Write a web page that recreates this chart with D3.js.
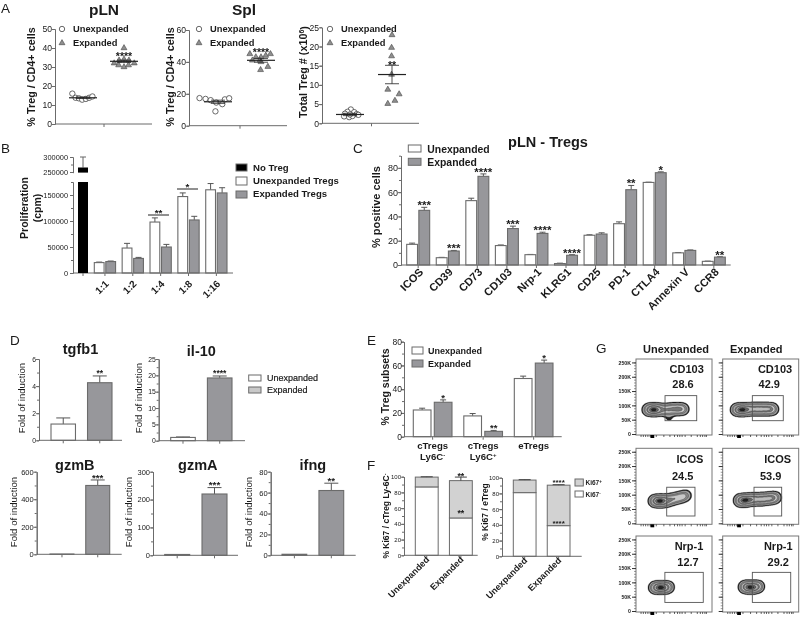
<!DOCTYPE html>
<html>
<head>
<meta charset="utf-8">
<script src="https://cdn.jsdelivr.net/npm/d3@7"></script>
<style>
body { margin: 0; background: #fff; }
text { font-family: "Liberation Sans", Arial, sans-serif; fill: #1a1a1a; }
svg { filter: blur(0.3px); }
</style>
</head>
<body>
<div id="chart"></div>
<script>
// panel A: [x in category units, value]
const plnUnexp = [[0.74,16],[0.82,13.8],[0.9,13.5],[0.98,12.8],[1.07,13.2],[1.15,13.8],[1.23,14.5]];
const plnExp = [[2,40],[1.76,32],[1.87,31],[2,30],[2.11,31],[2.25,32],[1.88,33.5],[2,34],[2.12,33.5]];
const splUnexp = [[0.57,17.3],[0.71,16.8],[0.83,16],[0.96,14.5],[1.1,13.5],[0.94,9],[1.16,16.5],[1.26,17.2]];
const splExp = [[1.74,45],[2.22,45],[2.11,44],[1.88,43],[2,43],[1.97,41],[2,40],[2.16,37],[1.99,35],[1.8,41]];
const totUnexp = [[1.02,3.6],[0.94,3],[1.1,2.9],[0.88,2.5],[1.16,2.4],[0.86,1.8],[0.98,1.6],[1.06,1.9],[1,2.3],[1.2,2.2]];
const totExp = [[2,23],[1.99,19.7],[1.99,17.5],[1.99,12.7],[1.9,8.8],[2.17,7.6],[2.07,5.9],[1.9,5.1]];

// panel B
const bCats = ["1:1","1:2","1:4","1:8","1:16"];
const bUnexp = [20000,48000,98000,147000,160000];
const bUnexpErr = [1000,9000,8000,7000,12000];
const bExp = [22000,28000,50000,102000,154000];
const bExpErr = [1000,2000,5000,7000,10000];
const bNoTreg = 265000, bNoTregErr = 35000;

// panel C
const cCats = ["ICOS","CD39","CD73","CD103","Nrp-1","KLRG1","CD25","PD-1","CTLA4","Annexin V","CCR8"];
const cUnexp = [17,6,53,16,8.5,1.2,24.5,34,68,10,3];
const cUnexpErr = [1,0.3,2,0.5,0.2,0.3,0.4,1.5,0.2,0.3,0.2];
const cExp = [45,11.5,73,30,26,8,25.5,62,76,12,6.5];
const cExpErr = [2.5,0.5,2,2,1,0.5,1,3.5,0.7,0.4,0.3];
const cStars = ["***","***","****","***","****","****","","**","*","","**"];

// panel D
const dGenes = ["tgfb1","il-10","gzmB","gzmA","ifng"];
const dUnexp = [1.2,1,2,3,1];
const dUnexpErr = [0.45,0.15,0,0,0];
const dExp = [4.25,19.2,500,220,62];
const dExpErr = [0.5,0.6,40,23,7];
const dStars = ["**","****","***","***","**"];

// panel E
const eUnexp = [22.5,17.5,49];
const eUnexpErr = [1.5,2,2];
const eExp = [29,4.5,62];
const eExpErr = [2,0.8,2.5];
const eStars = ["*","**","*"];

// panel F
const fGroups = ["Unexpanded","Expanded"];
const fNegCtreg = [87,47.5], fPosCtreg = [12.5,47.5];
const fNegCtregErr = [0.5,5], fPosCtregErr = [0.4,4.5];
const fNegEtreg = [81,39], fPosEtreg = [16,51.5];
const fNegEtregErr = [0.5,0.6], fPosEtregErr = [0.5,0.6];

// panel G: population ridge, [FL position 0-100, FSC in K, weight]
const flowTitles = [["CD103","28.6","CD103","42.9"],["ICOS","24.5","ICOS","53.9"],["Nrp-1","12.7","Nrp-1","29.2"]];
const flowTicks = [6,9,12,15,18,26,36,44,50,54,57,60,64,72,80,84,87,90,92];
const flowPops = [
 [ [[16,85,3],[22,85,5],[28,85,4],[34,85,2],[40,85,2],[46,87,2.2],[52,87,2.4],[58,87,2.4],[63,87,1.6],[42,58,0.3],[45,58,0.3]],
   [[18,85,3],[24,85,5],[30,85,4],[36,87,3],[42,87,3],[48,87,3],[54,87,3],[60,87,3],[66,87,2.5]] ],
 [ [[24,78,3],[30,78,5],[36,78,4],[42,80,2.5],[48,84,2],[54,88,2],[60,92,2],[66,97,1.6]],
   [[22,80,3],[28,80,5],[34,82,4],[40,84,3],[46,84,3],[52,84,3],[58,86,3],[64,88,3],[70,90,2]] ],
 [ [[24,82,3],[29,82,5],[34,82,5],[39,82,4],[44,84,2]],
   [[28,84,3],[33,84,5],[38,82,5],[43,84,4],[48,86,2.5]] ]
];
// gates: FL from, FL to, FSC low, FSC high
const flowGates = [
 [[38.2,79.9,46.5,134],[39,79.7,46.5,134]],
 [[40.4,77.6,25.5,126],[41.2,77.6,25.5,126]],
 [[38,88.5,30,135],[39,89.5,30,135]]
];
const flowLevels = [0.05,0.09,0.18,0.3,0.45,0.6,0.76,0.92];
const flowColors = ["#222","#a8a8a8","#888","#c8c8c8","#777","#bbb","#666","#222"];

const grey = "#6b6b6b", barGrey = "#97979b";

const svg = d3.select("#chart").append("svg").attr("width",800).attr("height",617);

function label(x,y,txt,size,opts={}) {
  const t = svg.append("text").attr("x",x).attr("y",y).attr("dy","0.35em")
    .attr("font-size",size).attr("font-weight",opts.weight||"bold")
    .attr("text-anchor",opts.anchor||"start").text(txt);
  if (opts.rotate!==undefined) t.attr("transform",`rotate(${opts.rotate},${x},${y})`);
  return t;
}
function yLabel(x,y,txt,size,weight) { return label(x,y,txt,size,{rotate:-90,anchor:"middle",weight:weight}); }
function stars(x,yc,txt,size=9) {
  svg.append("text").attr("x",x).attr("y",yc+size*0.55).attr("font-size",size).attr("font-weight","bold")
    .attr("text-anchor","middle").text(txt);
}
function yAxis(x,y,major,minor,size=9,dx=-3) {
  const g = svg.append("g").attr("transform",`translate(${x},0)`);
  g.append("g").call(d3.axisLeft(y).tickValues(minor).tickSize(2).tickFormat("").tickSizeOuter(0))
    .call(a=>a.select(".domain").attr("stroke",grey)).call(a=>a.selectAll("line").attr("stroke",grey));
  g.append("g").call(d3.axisLeft(y).tickValues(major).tickSize(3).tickSizeOuter(0).tickFormat(d3.format("d")))
    .call(a=>a.select(".domain").attr("stroke",grey)).call(a=>a.selectAll("line").attr("stroke",grey))
    .call(a=>a.selectAll("text").attr("font-size",size).attr("x",dx).attr("fill","#333").style("font-family",'"Liberation Sans"'));
}
function xAxis(y0,x0,x1,scale,vals) {
  const g = svg.append("g").attr("transform",`translate(0,${y0})`);
  g.append("g").call(d3.axisBottom(scale).tickValues(vals).tickSize(3).tickSizeOuter(0).tickFormat(""))
    .call(a=>a.select(".domain").remove()).call(a=>a.selectAll("line").attr("stroke",grey));
  g.append("line").attr("x1",x0).attr("x2",x1).attr("stroke",grey);
}
function legendBox(x,y,w,h,fill) {
  svg.append("rect").attr("x",x).attr("y",y).attr("width",w).attr("height",h)
    .attr("fill",fill).attr("stroke",grey).attr("stroke-width",1);
}
function errUp(x,yTop,yBase,cap=4,col="#555") {
  svg.append("path").attr("d",`M${x-cap},${yTop}H${x+cap}M${x},${yTop}V${yBase}`)
    .attr("stroke",col).attr("stroke-width",1).attr("fill","none");
}

// A scatter panels
function scatter(cfg) {
  const x = d3.scaleLinear().domain([1,2]).range(cfg.centers);
  const y = d3.scaleLinear().domain([0,cfg.max]).range(cfg.yr);
  yAxis(cfg.x0,y,cfg.major,cfg.minor,8.6);
  xAxis(cfg.yr[0],cfg.x0,cfg.x1,x,[1.5]);
  svg.append("g").selectAll("circle").data(cfg.un).join("circle")
    .attr("cx",d=>x(d[0])).attr("cy",d=>y(d[1])).attr("r",2.7)
    .attr("fill","#fff").attr("stroke","#444").attr("stroke-width",0.8);
  const tri = d3.symbol().type(d3.symbolTriangle).size(15);
  svg.append("g").selectAll("path").data(cfg.ex).join("path").attr("d",tri)
    .attr("transform",d=>`translate(${x(d[0])},${y(d[1])})`)
    .attr("fill","#8f8f8f").attr("stroke","#444").attr("stroke-width",0.6);
  [[1,cfg.semU],[2,cfg.semE]].forEach(([c,s],i)=>{
    const mv = cfg.means[i];
    svg.append("path").attr("d",`M${x(c)-14},${y(mv)}H${x(c)+14}`).attr("stroke","#222").attr("stroke-width",1.2);
    svg.append("path").attr("d",`M${x(c)-7},${y(mv+s)}H${x(c)+7}M${x(c)-7},${y(mv-s)}H${x(c)+7}M${x(c)},${y(mv+s)}V${y(mv-s)}`)
      .attr("stroke","#222").attr("stroke-width",0.8).attr("fill","none");
  });
  const lx = cfg.x0+cfg.legendDx;
  svg.append("circle").attr("cx",lx).attr("cy",29).attr("r",2.7).attr("fill","#fff").attr("stroke","#444").attr("stroke-width",0.8);
  svg.append("path").attr("d",tri).attr("transform",`translate(${lx},43)`).attr("fill","#8f8f8f").attr("stroke","#444").attr("stroke-width",0.6);
  label(lx+11,29,"Unexpanded",9.3);
  label(lx+11,43,"Expanded",9.3);
  stars(x(2),cfg.starY,cfg.star,10.5);
}
scatter({x0:55,x1:152,centers:[83,124],yr:[124,29],max:50,major:d3.range(0,51,10),minor:d3.range(0,51,10),
  un:plnUnexp,ex:plnExp,means:[13.8,33],semU:0.4,semE:0.6,legendDx:7,star:"****",starY:54});
scatter({x0:189,x1:287,centers:[218,261],yr:[125.7,30],max:60,major:[0,20,40,60],minor:[0,20,40,60],
  un:splUnexp,ex:splExp,means:[15,41],semU:1,semE:1.2,legendDx:10,star:"****",starY:50});
scatter({x0:322,x1:419,centers:[350,392],yr:[123.3,27.3],max:25,major:d3.range(0,26,5),minor:d3.range(0,26,5),
  un:totUnexp,ex:totExp,means:[2.3,12.7],semU:0.3,semE:2.4,legendDx:8,star:"**",starY:63});
label(104,10,"pLN",15.5,{anchor:"middle"});
label(244,10,"Spl",15.5,{anchor:"middle"});
yLabel(31,77,"% Treg / CD4+ cells",10.8);
yLabel(170,77,"% Treg / CD4+ cells",10.8);
const totLab = yLabel(303,72,"Total Treg # (x10",10.8);
totLab.append("tspan").attr("dy","-0.4em").attr("font-size",7).text("6");
totLab.append("tspan").attr("dy","0.4em").text(")");

// bar groups shared by B, C, E
function barGroups(cfg) {
  const x0 = d3.scaleBand().domain(cfg.cats).range(cfg.range).paddingInner(cfg.pad0);
  const x1 = d3.scaleBand().domain(["u","e"]).range([0,x0.bandwidth()]).paddingInner(cfg.pad1);
  cfg.cats.forEach((c,i)=>{
    [["u",cfg.un,cfg.unErr,"#fff"],["e",cfg.ex,cfg.exErr,barGrey]].forEach(([k,v,err,fill])=>{
      const bx = x0(c)+x1(k), cx = bx+x1.bandwidth()/2;
      errUp(cx,cfg.y(v[i]+err[i]),cfg.y(v[i]),3);
      svg.append("rect").attr("x",bx).attr("width",x1.bandwidth()).attr("y",cfg.y(v[i]))
        .attr("height",cfg.y(0)-cfg.y(v[i])).attr("fill",fill).attr("stroke",grey).attr("stroke-width",1.1);
    });
  });
  return {x0,x1};
}

// B, broken y axis
const bLow = d3.scaleLinear().domain([0,175000]).range([273,182]);
const bHigh = d3.scaleLinear().domain([248000,300000]).range([172.6,157]);
yAxis(73,bLow,[0,50000,100000,150000],d3.range(0,175001,25000),7.4,-5);
yAxis(73,bHigh,[250000,300000],[250000,275000,300000],7.4,-5);
const bScales = barGroups({cats:bCats,range:[94.3,227],pad0:0.236,pad1:0.15,y:bLow,un:bUnexp,unErr:bUnexpErr,ex:bExp,exErr:bExpErr});
xAxis(273,73,233,d3.scaleBand().domain(bCats).range([94.3,227]).paddingInner(0.236),bCats);
errUp(83,bHigh(bNoTreg+bNoTregErr),bHigh(bNoTreg),3,"#666");
svg.append("rect").attr("x",78).attr("width",10).attr("y",bHigh(bNoTreg)).attr("height",bHigh.range()[0]-bHigh(bNoTreg)).attr("fill","#000");
svg.append("rect").attr("x",78).attr("width",10).attr("y",bLow(175000)).attr("height",bLow(0)-bLow(175000)).attr("fill","#000");
svg.append("line").attr("x1",83).attr("x2",83).attr("y1",273).attr("y2",276).attr("stroke",grey);
bCats.forEach(c=>label(bScales.x0(c)+bScales.x0.bandwidth()/2+2,282,c,10,{anchor:"end",rotate:-45}));
[[148,169,215,"**"],[177,198,189,"*"]].forEach(([a,b,yy,s])=>{
  svg.append("line").attr("x1",a).attr("x2",b).attr("y1",yy).attr("y2",yy).attr("stroke","#222");
  stars((a+b)/2,yy-4,s,9.8);
});
yLabel(24,208,"Proliferation",10.5);
yLabel(37,208,"(cpm)",10.5);
legendBox(236,164,11,7,"#000");
legendBox(236,177,11,8,"#fff");
legendBox(236,191,11,7,barGrey);
label(253,168,"No Treg",9.6);
label(253,180.5,"Unexpanded Tregs",9.6);
label(253,194,"Expanded Tregs",9.6);

// C
const cY = d3.scaleLinear().domain([0,90]).range([265,155.7]);
yAxis(401,cY,[0,20,40,60,80],d3.range(0,91,10),9);
const cScales = barGroups({cats:cCats,range:[406.7,725.3],pad0:0.223,pad1:0.11,y:cY,un:cUnexp,unErr:cUnexpErr,ex:cExp,exErr:cExpErr});
xAxis(265,401,730.7,cScales.x0,[]);
cCats.forEach((c,i)=>{
  const cx = cScales.x0(c)+cScales.x0.bandwidth()/2;
  svg.append("line").attr("x1",cx).attr("x2",cx).attr("y1",265).attr("y2",268).attr("stroke",grey);
  label(cx+3,270,c,11,{anchor:"end",rotate:-45});
  if (cStars[i]) stars(cx+6,cY(cExp[i]+cExpErr[i])-4.5,cStars[i],11.5);
});
label(548,142,"pLN - Tregs",14.5,{anchor:"middle"});
yLabel(376,207,"% positive cells",11);
legendBox(408.3,145,12.7,7,"#fff");
legendBox(408.3,158.3,12.7,7,barGrey);
label(427.3,149.3,"Unexpanded",10.4);
label(427.3,162.3,"Expanded",10.4);

// D
function gene(i,cfg) {
  const y = d3.scaleLinear().domain([0,cfg.max]).range(cfg.yr);
  const x = d3.scaleBand().domain(["u","e"]).range(cfg.bars).paddingInner(0.33);
  yAxis(cfg.x0,y,cfg.major,cfg.minor,cfg.tickSize||6.8);
  [["u",dUnexp,dUnexpErr,"#fff"],["e",dExp,dExpErr,barGrey]].forEach(([k,v,e,fill])=>{
    const cx = x(k)+x.bandwidth()/2;
    if (e[i]>0) errUp(cx,y(v[i]+e[i]),y(v[i]),7);
    svg.append("rect").attr("x",x(k)).attr("width",x.bandwidth()).attr("y",y(v[i]))
      .attr("height",y(0)-y(v[i])).attr("fill",fill).attr("stroke",grey).attr("stroke-width",1.1);
  });
  xAxis(cfg.yr[0],cfg.x0,cfg.x1,x,["u","e"]);
  stars(x("e")+x.bandwidth()/2,y(dExp[i]+dExpErr[i])-4.5,dStars[i],cfg.starSize||8.5);
  label((cfg.bars[0]+cfg.bars[1])/2+cfg.titleDx,cfg.titleY,dGenes[i],14.5,{anchor:"middle"});
  yLabel(cfg.labX,cfg.labY,"Fold of induction",9.6,"normal");
}
gene(0,{x0:39,x1:122,yr:[440.3,359],max:6,major:[0,2,4,6],minor:d3.range(0,7,1),bars:[51,112],titleDx:-1,titleY:349,labX:22,labY:398});
gene(1,{x0:158.7,x1:245,yr:[440.7,359],max:25,major:d3.range(0,26,5),minor:d3.range(0,26,2.5),bars:[170.7,232],titleDx:0,titleY:351,labX:139,labY:398});
gene(2,{x0:36.7,x1:121.7,yr:[554.3,471.7],max:600,major:[0,200,400,600],minor:d3.range(0,601,100),bars:[50,109.7],titleDx:-5,titleY:465,labX:14,labY:512,tickSize:7.5,starSize:9.7});
gene(3,{x0:153,x1:238,yr:[555.3,471.7],max:300,major:[0,100,200,300],minor:d3.range(0,301,50),bars:[164.7,227],titleDx:2,titleY:465,labX:128.7,labY:512,tickSize:7.5,starSize:9.7});
gene(4,{x0:270.7,x1:355.7,yr:[555.3,471.7],max:80,major:[0,20,40,60,80],minor:d3.range(0,81,10),bars:[282,343.7],titleDx:0,titleY:465,labX:249,labY:512,tickSize:7.5,starSize:9.7});
legendBox(248.7,375,12.3,6,"#fff");
legendBox(248.7,387,12.3,6,"#c9c9c9");
label(267,378,"Unexpanded",9,{weight:"normal"}).attr("stroke","#1a1a1a").attr("stroke-width",0.2);
label(267,390,"Expanded",9,{weight:"normal"}).attr("stroke","#1a1a1a").attr("stroke-width",0.2);

// E
const eCats = ["cTregs Ly6C-","cTregs Ly6C+","eTregs"];
const eY = d3.scaleLinear().domain([0,80]).range([436.7,341.7]);
yAxis(404,eY,[0,20,40,60,80],d3.range(0,81,10),8.5,-2);
const eScales = barGroups({cats:eCats,range:[413.3,553],pad0:0.234,pad1:0.157,y:eY,un:eUnexp,unErr:eUnexpErr,ex:eExp,exErr:eExpErr});
xAxis(436.7,404,561.7,eScales.x0,eCats);
eCats.forEach((c,i)=>{
  const cx = eScales.x0(c)+eScales.x0.bandwidth()/2;
  stars(cx+10.5,eY(eExp[i]+eExpErr[i])-4.5,eStars[i],9.5);
  const parts = c.split(" ");
  label(cx,445.7,parts[0],9.6,{anchor:"middle"});
  if (parts[1]) {
    const sign = parts[1].slice(-1);
    const t = label(cx,456.7,parts[1].slice(0,-1),9.6,{anchor:"middle"});
    t.append("tspan").attr("dy","-0.45em").attr("font-size",6).text(sign==="-"?"-":"+");
  }
});
yLabel(385,387,"% Treg subsets",10.5);
legendBox(412,347,11,7,"#fff");
legendBox(412,360,11,7,barGrey);
label(428,350.7,"Unexpanded",9);
label(428,363.7,"Expanded",9);

// F, stacked
function stacked(cfg) {
  const rows = fGroups.map((g,i)=>({g,neg:cfg.neg[i],pos:cfg.pos[i]}));
  const series = d3.stack().keys(["neg","pos"])(rows);
  const y = d3.scaleLinear().domain([0,100]).range(cfg.yr);
  const x = d3.scaleBand().domain(fGroups).range(cfg.bars).paddingInner(0.33);
  yAxis(cfg.x0,y,d3.range(0,101,20),d3.range(0,101,10),6);
  series.forEach((s,si)=>{
    s.forEach((d,i)=>{
      const g = d.data.g, cx = x(g)+x.bandwidth()/2;
      const errs = si===0?cfg.negErr:cfg.posErr;
      svg.append("rect").attr("x",x(g)).attr("width",x.bandwidth()).attr("y",y(d[1]))
        .attr("height",y(d[0])-y(d[1])).attr("fill",si===0?"#fff":"#d2d2d2")
        .attr("stroke",grey).attr("stroke-width",1);
      errUp(cx,y(d[1]+errs[i]),y(d[1]),6,"#444");
    });
  });
  xAxis(cfg.yr[0],cfg.x0,cfg.x1,x,fGroups);
  fGroups.forEach(g=>label(x(g)+x.bandwidth()/2+cfg.labDx,cfg.labY,g,9,{anchor:"end",rotate:-45}));
  const ex = x("Expanded")+x.bandwidth()/2;
  stars(ex,y(cfg.neg[1]+cfg.negErr[1])-cfg.starGap,cfg.star,cfg.starSize);
  stars(ex,y(cfg.neg[1]+cfg.pos[1]+cfg.posErr[1])-cfg.starGap,cfg.star,cfg.starSize);
}
stacked({x0:404,x1:477.7,yr:[555.3,476.7],bars:[415.3,472.3],neg:fNegCtreg,pos:fPosCtreg,negErr:fNegCtregErr,posErr:fPosCtregErr,star:"**",labDx:1,labY:558,starGap:3,starSize:8.8});
stacked({x0:502,x1:581.7,yr:[556.3,477.7],bars:[513.3,570],neg:fNegEtreg,pos:fPosEtreg,negErr:fNegEtregErr,posErr:fPosEtregErr,star:"****",labDx:1,labY:559,starGap:4,starSize:8});
const fLab = yLabel(386,516,"% Ki67 / cTreg Ly-6C",8.5);
fLab.append("tspan").attr("dy","-0.4em").attr("font-size",5.5).text("-");
yLabel(485,512,"% Ki67 /  eTreg",8.5);
legendBox(575,479,8.3,7,"#d2d2d2");
legendBox(575,491,8.3,6,"#fff");
const k1 = label(585.5,483,"Ki67",6.5);
k1.append("tspan").attr("dy","-0.4em").attr("font-size",4.5).text("+");
const k2 = label(585.5,494.5,"Ki67",6.5);
k2.append("tspan").attr("dy","-0.4em").attr("font-size",4.5).text("-");

// G, flow plots
const colX = [636,722.7], rowY = [359,448.3,536];
const frameW = 76, frameH = 76;
const fx = d3.scaleLinear().domain([0,100]).range([0,frameW]);
const fy = d3.scaleLinear().domain([0,262]).range([frameH-1,0]);
rowY.forEach((ry,r)=>colX.forEach((cx,c)=>{
  const g = svg.append("g").attr("transform",`translate(${cx},${ry})`);
  g.append("rect").attr("width",frameW).attr("height",frameH).attr("fill","#fff").attr("stroke","#777");
  const density = d3.contourDensity().x(d=>fx(d[0])).y(d=>fy(d[1])).weight(d=>d[2])
    .size([frameW,frameH]).cellSize(1).bandwidth(3);
  const contourAt = density.contours(flowPops[r][c]);
  const contours = flowLevels.map(l=>contourAt(l*contourAt.max));
  g.append("g").selectAll("path").data(contours).join("path").attr("d",d3.geoPath())
    .attr("fill",(d,i)=>flowColors[i]).attr("stroke","#111").attr("stroke-width",0.3);
  const gate = flowGates[r][c];
  g.append("rect").attr("x",fx(gate[0])).attr("y",fy(gate[3]))
    .attr("width",fx(gate[1])-fx(gate[0])).attr("height",fy(gate[2])-fy(gate[3]))
    .attr("fill","none").attr("stroke","#555").attr("stroke-width",0.9);
  // axes
  g.append("g").call(d3.axisLeft(fy).tickValues(d3.range(0,251,10)).tickSize(2).tickFormat("").tickSizeOuter(0))
    .call(a=>a.select(".domain").remove()).call(a=>a.selectAll("line").attr("stroke","#555").attr("stroke-width",0.6));
  const maj = g.append("g").call(d3.axisLeft(fy).tickValues([0,50,100,150,200,250]).tickSize(4).tickSizeOuter(0)
    .tickFormat(d=>d===0?"0":d+"K"));
  maj.select(".domain").remove();
  maj.selectAll("line").attr("stroke","#333");
  maj.selectAll("text").attr("font-size",5.2).attr("x",-5).attr("fill","#555").attr("font-weight","bold");
  if (c===1) maj.selectAll("text").remove();
  const bot = g.append("g").attr("transform",`translate(0,${frameH})`)
    .call(d3.axisBottom(fx).tickValues(flowTicks).tickSize(2).tickFormat("").tickSizeOuter(0));
  bot.select(".domain").remove();
  bot.selectAll("line").attr("stroke","#222").attr("stroke-width",0.7);
  g.append("rect").attr("x",fx(19)).attr("y",frameH).attr("width",fx(5)).attr("height",3).attr("fill","#000");
}));
// flow texts
[[686.7,683,775,769.3,369,384],[690,682.7,777.7,770.7,459,476],[689,688,778.3,778.3,546,561.7]].forEach((p,r)=>{
  label(p[0],p[4],flowTitles[r][0],11,{anchor:"middle"});
  label(p[1],p[5],flowTitles[r][1],11,{anchor:"middle"});
  label(p[2],p[4],flowTitles[r][2],11,{anchor:"middle"});
  label(p[3],p[5],flowTitles[r][3],11,{anchor:"middle"});
});
label(643,349,"Unexpanded",11);
label(730,349,"Expanded",11);

// panel letters
[["A",1,8],["B",1,148],["C",353,148],["D",10,340],["E",367,340],["F",367,465],["G",596,348]].forEach(d=>{
  label(d[1],d[2],d[0],13.5,{weight:"normal"});
});
</script>
</body>
</html>
